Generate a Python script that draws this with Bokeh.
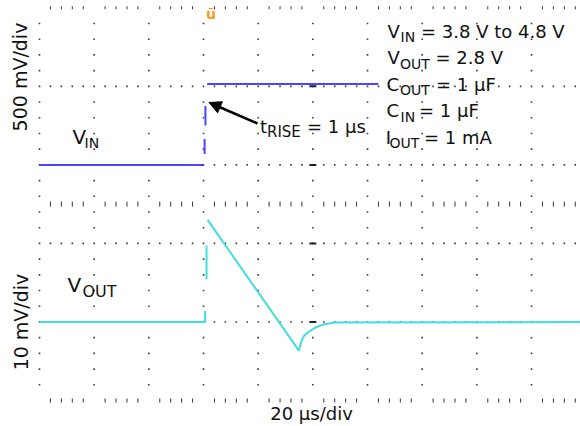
import numpy as np
from bokeh.plotting import figure
from bokeh.models import Range1d, Arrow, NormalHead
from bokeh.core.properties import value
from bokeh.embed import file_html
from bokeh.resources import INLINE

# ---------------- data ----------------
# time in microseconds from the left edge of the graticule (20 us/div)
vin_t = np.array([0.0, 60.0, np.nan, 60.4, 60.4, np.nan, 60.7, 60.7, np.nan, 61.35, 124.0])
# input voltage in volts (500 mV/div)
vin_v = np.array([3.80, 3.80, np.nan, 3.94, 4.13, np.nan, 4.30, 4.55, np.nan, 4.83, 4.83])

vout_t = np.array([0.0, 60.6, 60.6, np.nan, 61.1, 61.1, np.nan,
                   61.5, 94.9, 95.7, 96.7, 98.5, 101.0, 104.0, 108.3, 198.0])
# output deviation from 2.8 V in millivolts (10 mV/div)
vout_mv = np.array([0.0, 0.0, 2.8, np.nan, 19.5, 10.9, np.nan,
                    26.0, -7.3, -5.1, -3.6, -2.5, -1.4, -0.6, -0.15, 0.0])

trigger_t = [62.6]

# ---------------- screen geometry of the graticule ----------------
X0, DX = 39.0, 54.67      # px of t=0, px per 20 us division
Y0, DY = 400.0, 39.27     # px of bottom graticule line, px per division
W, H = 580, 426


def tx(px):
    return (px - X0) / DX * 20.0


def dy(py):
    return (Y0 - py) / DY


# channel scaling: VIN 3.8 V on division 6, 0.5 V/div ; VOUT 0 mV on division 2, 10 mV/div
y_lo, y_hi = dy(H), dy(0)
vin_range = Range1d(3.8 + (y_lo - 6) * 0.5, 3.8 + (y_hi - 6) * 0.5)
vout_range = Range1d((y_lo - 2) * 10.0, (y_hi - 2) * 10.0)

p = figure(width=W, height=H, x_range=Range1d(tx(0), tx(W)), y_range=Range1d(y_lo, y_hi),
           output_backend="svg", toolbar_location=None,
           x_axis_location=None, y_axis_location=None, min_border=0,
           outline_line_color=None, background_fill_color="white", border_fill_color="white")
p.extra_y_ranges = {"vin": vin_range, "vout": vout_range}
p.grid.grid_line_color = None

# ---------------- dotted graticule ----------------
major_t = np.arange(0, 200, 20)
minor_t = np.arange(0, 197, 4)
col_d = 10 - 0.4 * np.arange(1, 25)
gx = [t for t in major_t for d in col_d]
gy = [d for t in major_t for d in col_d]
for d in (2, 4, 6, 8):
    for t in minor_t:
        if t % 20 != 0:
            gx.append(t)
            gy.append(d)
p.scatter(gx, gy, marker="square", size=1.6, fill_color="#3a3a3a", line_color=None)

tk_t = [t for t in minor_t if t % 20 != 0]
for d, sz in ((0, 4), (5, 5), (10, 3)):
    p.scatter(tk_t, [d] * len(tk_t), marker="dash", angle=np.pi / 2, size=sz,
              line_color="#333333", line_width=1)
p.scatter([100] * 4, [2, 4, 6, 8], marker="dash", size=7, line_color="#222222", line_width=2)

# ---------------- traces ----------------
p.line(vin_t, vin_v, y_range_name="vin", line_color="#4646ff", line_width=2)
p.line(vout_t, vout_mv, y_range_name="vout", line_color="#40dede", line_width=2)

# ---------------- annotations ----------------
FONT = value("DejaVu Sans")


def add_text(items, size, color="#111111", **kw):
    # items: (text, left px, baseline px); placed by the text's middle line
    p.text(x=[tx(a) for _, a, _ in items], y=[dy(b - 0.37 * size) for _, _, b in items],
           text=[s for s, _, _ in items], text_font=FONT, text_font_size=f"{size}px",
           text_color=color, text_baseline="middle", **kw)


# trigger marker
add_text([("ū", 210.5, 19)], 14, color="#f29b1d", text_font_style="bold", text_align="center")

legend_main = [("V", 387, 37.5), ("= 3.8 V to 4.8 V", 420.5, 37.5),
               ("V", 387, 64), ("= 2.8 V", 435, 64),
               ("C", 386, 90.5), ("= 1 µF", 435.5, 90.5),
               ("C", 386, 117), ("= 1 µF", 418.5, 117),
               ("I", 385.3, 143.5), ("= 1 mA", 423.5, 143.5),
               ("t", 259.5, 133), ("= 1 µs", 306.5, 133)]
legend_sub = [("IN", 400, 42), ("OUT", 399.5, 68.5), ("OUT", 399.5, 95),
              ("IN", 400, 121.5), ("OUT", 389, 148)]
add_text(legend_main, 18)
add_text(legend_sub, 14)
add_text([("RISE", 266.5, 137)], 15)

add_text([("V", 72, 144), ("V", 67, 292)], 20)
add_text([("IN", 84, 148)], 14)
add_text([("OUT", 82, 297)], 16)

p.text(x=[tx(19.5), tx(20.5)], y=[dy(76.5), dy(321.5)], text=["500 mV/div", "10 mV/div"],
       text_font=FONT, text_font_size="19px", text_color="#111111", angle=np.pi / 2,
       text_align="center", text_baseline="middle")
add_text([("20 µs/div", 311, 420)], 18, text_align="center")

p.add_layout(Arrow(end=NormalHead(size=12, fill_color="black", line_color="black"),
                   x_start=tx(257), y_start=dy(123), x_end=tx(208.5), y_end=dy(102),
                   line_width=2.5, line_color="black"))

open("out.html", "w").write(file_html(p, INLINE))
